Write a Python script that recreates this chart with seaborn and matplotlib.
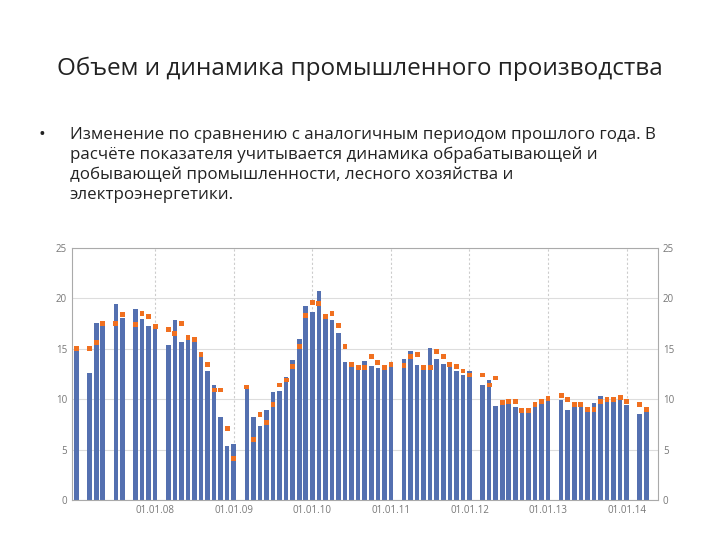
import numpy as np
import pandas as pd
import matplotlib.pyplot as plt
import seaborn as sns

# month index from Jan 2007, bar value, marker value
months = [0, 2, 3, 4, 6, 7, 9, 10, 11, 12, 14, 15, 16, 17, 18, 19, 20, 21, 22, 23,
          24, 26, 27, 28, 29, 30, 31, 32, 33, 34, 35, 36, 37, 38, 39, 40, 41, 42,
          43, 44, 45, 46, 47, 48, 50, 51, 52, 53, 54, 55, 56, 57, 58, 59, 60, 62,
          63, 64, 65, 66, 67, 68, 69, 70, 71, 72, 74, 75, 76, 77, 78, 79, 80, 81,
          82, 83, 84, 86, 87]
bars = [14.8, 12.6, 17.6, 17.6, 19.4, 18.0, 18.9, 17.9, 17.3, 17.3, 15.4, 17.8, 15.7,
        16.3, 15.9, 14.7, 12.8, 11.4, 8.2, 5.4, 5.6, 11.1, 8.2, 7.3, 8.9, 10.7, 10.8,
        12.2, 13.9, 16.0, 19.2, 18.6, 20.7, 18.1, 17.8, 16.6, 13.7, 13.6,
        13.2, 13.8, 13.3, 13.1, 13.1, 13.6, 14.0, 14.8, 13.4, 13.4, 15.1, 14.0, 13.5,
        13.7, 12.8, 12.4, 12.8, 11.4, 11.9, 9.3, 9.8, 9.8, 9.2, 8.8, 9.0, 9.4, 9.9,
        10.3, 9.9, 8.9, 9.5, 9.4, 9.2, 9.6, 10.3, 10.0, 10.0, 10.2, 9.4, 8.5, 8.7]
markers = [15.0, 15.0, 15.6, 17.5, 17.5, 18.4, 17.4, 18.5, 18.2, 17.2, 16.9, 16.5, 17.5,
           16.1, 15.9, 14.4, 13.4, 10.9, 10.9, 7.1, 4.1, 11.2, 6.0, 8.5, 7.7, 9.5, 11.4,
           11.9, 13.2, 15.2, 18.3, 19.6, 19.5, 18.2, 18.5, 17.3, 15.2, 13.4,
           13.1, 13.1, 14.2, 13.6, 13.1, 13.4, 13.3, 14.2, 14.4, 13.1, 13.1, 14.7, 14.2,
           13.4, 13.2, 12.8, 12.4, 12.4, 11.4, 12.1, 9.7, 9.8, 9.8, 8.9, 8.9, 9.5, 9.8,
           10.1, 10.4, 10.0, 9.5, 9.5, 9.0, 9.0, 9.8, 10.0, 10.0, 10.2, 9.8, 9.5, 9.0]
tick_pos = [12, 24, 36, 48, 60, 72, 84]
tick_labels = ["01.01.08", "01.01.09", "01.01.10", "01.01.11", "01.01.12", "01.01.13", "01.01.14"]

df = pd.DataFrame({"month": months, "bar": bars, "marker": markers})

sns.set_style("white")
plt.rcParams["font.family"] = ["Open Sans", "DejaVu Sans"]

fig = plt.figure(figsize=(7.2, 5.4), dpi=100)
fig.text(0.5, 0.873, "Объем и динамика промышленного производства", ha="center",
         va="center", fontsize=17.5, color="#222222")
fig.text(0.053, 0.75, "•", fontsize=13, va="center", color="#222222")
fig.text(0.097, 0.765,
         "Изменение по сравнению с аналогичным периодом прошлого года. В\n"
         "расчёте показателя учитывается динамика обрабатывающей и\n"
         "добывающей промышленности, лесного хозяйства и\n"
         "электроэнергетики.",
         fontsize=12.2, va="top", ha="left", linespacing=1.3, color="#222222")

ax = fig.add_axes([0.1, 0.074, 0.814, 0.467])
sns.barplot(data=df, x="month", y="bar", native_scale=True, width=0.7,
            color="#5470b0", saturation=1, linewidth=0, ax=ax)
sns.scatterplot(data=df, x="month", y="marker", marker="s", s=12, color="#f07020",
                edgecolor="none", ax=ax, zorder=3)

ax.set_xlim(-0.7, 88.8)
ax.set_ylim(0, 25)
ax.set_yticks([0, 5, 10, 15, 20, 25])
ax.set_xticks(tick_pos)
ax.set_xticklabels(tick_labels)
ax.set_xlabel(""); ax.set_ylabel("")
ax.grid(True, axis="y", color="#dddddd", linewidth=0.8)
for p in tick_pos:
    ax.axvline(p, color="#cccccc", linestyle=(0, (2, 2)), linewidth=0.8, zorder=0)
ax.set_axisbelow(True)
for s in ax.spines.values():
    s.set_color("#aaaaaa"); s.set_linewidth(0.8)
ax.tick_params(labelsize=7, colors="#777777", length=0)
ax2 = ax.twinx()
ax2.set_ylim(0, 25)
ax2.set_yticks([0, 5, 10, 15, 20, 25])
ax2.tick_params(labelsize=7, colors="#777777", length=0)
for s in ax2.spines.values():
    s.set_visible(False)

plt.savefig("out.png", dpi=100)
